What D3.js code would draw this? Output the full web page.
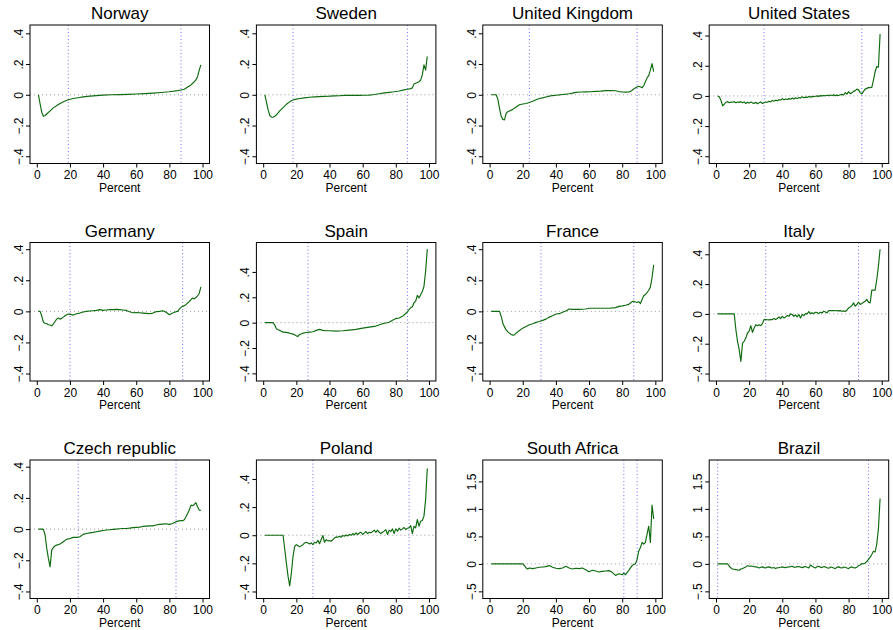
<!DOCTYPE html>
<html><head><meta charset="utf-8">
<script src="https://cdn.jsdelivr.net/npm/d3@7"></script>
<style>body{margin:0;background:#fff}svg{display:block}</style>
</head><body><svg id="c" width="893" height="630"></svg>
<script>
const countries = ["Norway","Sweden","United Kingdom","United States","Germany","Spain","France","Italy","Czech republic","Poland","South Africa","Brazil"];

const norway = [[1,0],[2,-0.06],[3,-0.115],[4,-0.14],[5,-0.135],[6,-0.125],[8,-0.105],[10,-0.085],[13,-0.063],[16,-0.045],[19,-0.032],[22,-0.024],[25,-0.019],[28,-0.014],[32,-0.009],[36,-0.005],[40,-0.002],[45,0],[50,0.001],[55,0.003],[60,0.005],[65,0.008],[70,0.011],[75,0.015],[80,0.02],[85,0.027],[87,0.031],[89,0.036],[91,0.05],[93,0.064],[95,0.085],[96,0.097],[97,0.118],[98,0.16],[99,0.195]];
const sweden = [[1,0],[2,-0.05],[3,-0.1],[4,-0.135],[5,-0.145],[6,-0.146],[7,-0.14],[8,-0.13],[9,-0.118],[10,-0.105],[12,-0.083],[14,-0.062],[16,-0.046],[18,-0.034],[20,-0.028],[22,-0.024],[25,-0.02],[28,-0.016],[31,-0.014],[34,-0.012],[37,-0.01],[40,-0.009],[43,-0.007],[46,-0.006],[49,-0.004],[52,-0.003],[55,-0.004],[58,-0.004],[61,-0.003],[64,-0.002],[67,0.002],[70,0.007],[73,0.012],[76,0.016],[79,0.02],[82,0.025],[85,0.032],[87,0.036],[89,0.04],[90,0.045],[91,0.07],[92,0.075],[93,0.08],[94,0.085],[95,0.095],[96,0.13],[97,0.195],[98,0.16],[99,0.25]];
const unitedKingdom = [[1,0],[2,0],[3,0],[4,0],[5,-0.03],[6,-0.09],[7,-0.14],[8,-0.16],[9,-0.163],[10,-0.12],[11,-0.11],[12,-0.105],[14,-0.095],[16,-0.08],[18,-0.065],[20,-0.06],[22,-0.057],[24,-0.05],[26,-0.042],[28,-0.032],[30,-0.024],[32,-0.02],[34,-0.014],[36,-0.009],[38,-0.005],[40,-0.003],[42,-0.001],[44,0.002],[46,0.004],[48,0.007],[50,0.011],[52,0.016],[55,0.018],[58,0.019],[61,0.02],[64,0.022],[67,0.024],[70,0.027],[73,0.028],[76,0.026],[78,0.021],[80,0.018],[82,0.017],[84,0.018],[85,0.022],[86,0.03],[87,0.038],[88,0.045],[89,0.05],[90,0.055],[91,0.052],[92,0.045],[93,0.06],[94,0.085],[95,0.11],[96,0.125],[97,0.16],[98,0.203],[99,0.15]];
const unitedStates = [[1,0],[2,-0.005],[3,-0.03],[4,-0.065],[5,-0.055],[6,-0.042],[7,-0.038],[8,-0.045],[9,-0.04],[10,-0.042],[11,-0.038],[12,-0.045],[13,-0.04],[14,-0.043],[15,-0.038],[16,-0.046],[17,-0.04],[18,-0.05],[19,-0.042],[20,-0.048],[21,-0.04],[22,-0.046],[23,-0.05],[24,-0.042],[25,-0.052],[26,-0.045],[27,-0.04],[28,-0.05],[29,-0.045],[30,-0.04],[31,-0.042],[32,-0.035],[33,-0.04],[34,-0.03],[35,-0.035],[36,-0.028],[37,-0.032],[38,-0.025],[39,-0.028],[40,-0.018],[41,-0.025],[42,-0.02],[43,-0.024],[44,-0.018],[45,-0.022],[46,-0.014],[47,-0.02],[48,-0.012],[49,-0.018],[50,-0.01],[51,-0.015],[52,-0.006],[53,-0.012],[54,-0.008],[55,-0.01],[56,-0.004],[57,-0.008],[58,-0.003],[59,-0.006],[60,-0.002],[61,0],[62,-0.003],[63,0.002],[64,0],[65,0.003],[66,0.001],[67,0.004],[68,0.002],[69,0.006],[70,0.003],[71,0.007],[72,0.002],[73,0.005],[74,0.003],[75,0.008],[76,0.01],[77,0.006],[78,0.022],[79,0.012],[80,0.028],[81,0.015],[82,0.02],[83,0.03],[84,0.035],[85,0.045],[86,0.04],[87,0.022],[88,0.013],[89,0.03],[90,0.045],[91,0.05],[92,0.055],[93,0.055],[94,0.056],[95,0.105],[96,0.16],[97,0.195],[98,0.19],[99,0.41]];
const germany = [[1,0],[2,0],[3,-0.03],[4,-0.07],[5,-0.076],[6,-0.08],[7,-0.086],[8,-0.088],[9,-0.093],[10,-0.08],[11,-0.065],[12,-0.05],[13,-0.043],[14,-0.05],[15,-0.045],[16,-0.037],[17,-0.028],[18,-0.022],[19,-0.017],[20,-0.019],[22,-0.024],[24,-0.015],[26,-0.011],[28,-0.004],[30,0],[32,0.002],[34,0.004],[36,0.006],[38,0.011],[40,0.006],[42,0.009],[44,0.011],[46,0.011],[48,0.013],[50,0.011],[52,0.009],[54,0.006],[56,-0.002],[58,-0.009],[60,-0.007],[62,-0.009],[64,-0.011],[66,-0.013],[68,-0.015],[70,-0.011],[72,-0.002],[74,0],[76,0.004],[78,-0.006],[80,-0.022],[81,-0.015],[82,-0.011],[84,-0.002],[85,0],[86,0.015],[87,0.026],[88,0.032],[89,0.037],[90,0.043],[91,0.054],[92,0.063],[93,0.076],[94,0.086],[95,0.08],[96,0.089],[97,0.1],[98,0.115],[99,0.158]];
const spain = [[1,0],[6,0],[7,-0.021],[8,-0.048],[9,-0.056],[10,-0.061],[12,-0.075],[14,-0.077],[16,-0.083],[18,-0.09],[20,-0.104],[21,-0.109],[22,-0.093],[24,-0.083],[26,-0.078],[28,-0.075],[30,-0.072],[32,-0.061],[34,-0.053],[36,-0.061],[38,-0.064],[40,-0.064],[44,-0.067],[48,-0.064],[52,-0.059],[56,-0.053],[60,-0.043],[64,-0.035],[68,-0.027],[72,-0.008],[74,-0.003],[76,0.003],[78,0.019],[80,0.032],[82,0.037],[84,0.05],[86,0.072],[87,0.085],[88,0.104],[89,0.117],[90,0.125],[91,0.157],[92,0.17],[93,0.215],[94,0.195],[95,0.22],[96,0.245],[97,0.285],[98,0.405],[99,0.58]];
const france = [[1,0],[6,0],[7,-0.032],[8,-0.076],[9,-0.1],[10,-0.119],[11,-0.132],[12,-0.14],[13,-0.149],[14,-0.153],[15,-0.151],[16,-0.14],[18,-0.123],[20,-0.108],[22,-0.097],[24,-0.086],[26,-0.08],[28,-0.071],[30,-0.065],[32,-0.058],[34,-0.05],[36,-0.037],[38,-0.028],[40,-0.017],[42,-0.015],[44,-0.006],[46,0.002],[48,0.015],[50,0.013],[54,0.013],[58,0.015],[60,0.02],[64,0.02],[68,0.02],[72,0.02],[76,0.024],[78,0.032],[80,0.035],[82,0.039],[84,0.045],[85,0.054],[86,0.063],[87,0.065],[88,0.06],[89,0.058],[90,0.062],[91,0.05],[92,0.076],[93,0.1],[94,0.108],[95,0.12],[96,0.136],[97,0.156],[98,0.216],[99,0.3]];
const italy = [[1,0],[11,0],[12,-0.106],[13,-0.184],[14,-0.24],[15,-0.319],[16,-0.196],[17,-0.184],[18,-0.162],[19,-0.128],[20,-0.117],[21,-0.079],[22,-0.124],[23,-0.094],[24,-0.072],[25,-0.079],[26,-0.072],[27,-0.079],[28,-0.065],[29,-0.038],[30,-0.038],[31,-0.039],[32,-0.04],[33,-0.038],[34,-0.038],[35,-0.031],[36,-0.038],[37,-0.031],[38,-0.02],[39,-0.031],[40,-0.016],[41,-0.027],[42,-0.02],[43,-0.011],[44,-0.016],[45,0],[46,-0.004],[47,-0.016],[48,-0.007],[49,-0.02],[50,-0.004],[51,-0.027],[52,-0.004],[53,-0.011],[54,0.002],[55,0],[56,0.016],[57,0.002],[58,0.007],[59,0.002],[60,0.011],[61,0.009],[62,0.002],[63,0.011],[64,0.007],[65,0.018],[66,0.013],[67,0.007],[68,0.022],[69,0.022],[70,0.022],[71,0.022],[72,0.021],[73,0.022],[74,0.02],[75,0.022],[76,0.018],[77,0.02],[78,0.016],[79,0.025],[80,0.04],[81,0.047],[82,0.056],[83,0.074],[84,0.052],[85,0.063],[86,0.079],[87,0.063],[88,0.07],[89,0.079],[90,0.085],[91,0.097],[92,0.079],[93,0.074],[94,0.16],[95,0.16],[96,0.16],[97,0.23],[98,0.32],[99,0.434]];
const czechRepublic = [[1,0],[3,0],[4,-0.002],[5,-0.038],[6,-0.124],[7,-0.188],[8,-0.242],[9,-0.135],[10,-0.118],[11,-0.107],[12,-0.103],[14,-0.096],[16,-0.081],[18,-0.066],[20,-0.06],[22,-0.053],[24,-0.053],[26,-0.049],[28,-0.034],[30,-0.028],[32,-0.024],[34,-0.021],[36,-0.017],[38,-0.013],[40,-0.009],[42,-0.006],[44,-0.004],[46,-0.002],[48,0],[50,0.002],[52,0.004],[54,0.004],[56,0.006],[58,0.009],[60,0.011],[62,0.013],[64,0.017],[66,0.019],[68,0.021],[70,0.021],[72,0.026],[74,0.03],[76,0.032],[78,0.034],[80,0.03],[82,0.036],[84,0.047],[85,0.051],[86,0.053],[87,0.055],[88,0.053],[89,0.06],[90,0.079],[91,0.1],[92,0.122],[93,0.154],[94,0.15],[95,0.158],[96,0.169],[97,0.143],[98,0.122],[99,0.12]];
const poland = [[1,0],[12,0],[13,-0.1],[14,-0.198],[15,-0.293],[16,-0.36],[17,-0.269],[18,-0.15],[19,-0.079],[20,-0.067],[21,-0.074],[22,-0.083],[23,-0.074],[24,-0.067],[25,-0.055],[26,-0.05],[27,-0.055],[28,-0.062],[29,-0.055],[30,-0.067],[31,-0.05],[32,-0.055],[33,-0.036],[34,-0.06],[35,-0.031],[36,-0.002],[37,-0.05],[38,-0.031],[39,-0.04],[40,-0.038],[41,-0.043],[42,-0.031],[43,-0.019],[44,-0.012],[45,-0.014],[46,-0.007],[47,-0.014],[48,-0.002],[49,-0.007],[50,0.002],[51,-0.005],[52,0.005],[53,0],[54,0.012],[55,0.002],[56,0.017],[57,0.005],[58,0.017],[59,0.021],[60,0.005],[61,0.017],[62,0.026],[63,0.012],[64,0.021],[65,0.017],[66,0.026],[67,0.036],[68,0.021],[69,0.036],[70,0.021],[71,0.012],[72,0.021],[73,0.029],[74,0.04],[75,0.005],[76,0.036],[77,0.026],[78,0.045],[79,0.012],[80,0.045],[81,0.029],[82,0.05],[83,0.036],[84,0.045],[85,0.055],[86,0.04],[87,0.05],[88,0.052],[89,0.069],[90,0.012],[91,0.064],[92,0.052],[93,0.112],[94,0.064],[95,0.1],[96,0.105],[97,0.136],[98,0.255],[99,0.474]];
const southAfrica = [[1,0],[20,0],[21,-0.03],[22,-0.074],[23,-0.093],[24,-0.074],[26,-0.086],[28,-0.074],[30,-0.062],[32,-0.056],[34,-0.05],[36,-0.031],[38,-0.062],[40,-0.08],[42,-0.086],[44,-0.074],[46,-0.043],[48,-0.074],[50,-0.093],[52,-0.08],[54,-0.086],[56,-0.074],[58,-0.105],[60,-0.142],[62,-0.117],[64,-0.13],[66,-0.148],[68,-0.136],[70,-0.13],[72,-0.123],[74,-0.154],[76,-0.21],[78,-0.179],[80,-0.198],[81,-0.167],[82,-0.198],[83,-0.154],[84,-0.117],[85,-0.074],[86,-0.031],[87,-0.006],[88,0],[89,0.08],[90,0.235],[91,0.296],[92,0.39],[93,0.358],[94,0.39],[95,0.54],[96,0.685],[97,0.39],[98,1.07],[99,0.82]];
const brazil = [[1,0],[7,0],[8,-0.043],[9,-0.074],[10,-0.093],[12,-0.105],[14,-0.117],[15,-0.093],[16,-0.086],[18,-0.055],[19,-0.031],[20,-0.043],[21,-0.04],[22,-0.043],[23,-0.05],[24,-0.055],[25,-0.06],[26,-0.074],[27,-0.062],[28,-0.055],[29,-0.068],[30,-0.074],[31,-0.058],[32,-0.055],[33,-0.068],[34,-0.074],[35,-0.065],[36,-0.086],[37,-0.07],[38,-0.068],[39,-0.062],[40,-0.055],[41,-0.065],[42,-0.068],[43,-0.058],[44,-0.055],[45,-0.05],[46,-0.043],[47,-0.06],[48,-0.062],[49,-0.05],[50,-0.049],[51,-0.06],[52,-0.068],[53,-0.055],[54,-0.049],[55,-0.062],[56,-0.074],[57,-0.019],[58,-0.043],[59,-0.06],[60,-0.074],[61,-0.05],[62,-0.043],[63,-0.06],[64,-0.068],[65,-0.05],[66,-0.055],[67,-0.07],[68,-0.08],[69,-0.06],[70,-0.062],[71,-0.075],[72,-0.086],[73,-0.06],[74,-0.055],[75,-0.068],[76,-0.074],[77,-0.06],[78,-0.062],[79,-0.075],[80,-0.086],[81,-0.062],[82,-0.055],[83,-0.07],[84,-0.074],[85,-0.06],[86,-0.031],[87,-0.02],[88,0.006],[89,0],[90,0.018],[91,0.043],[92,0.08],[93,0.123],[94,0.17],[95,0.23],[96,0.216],[97,0.36],[98,0.64],[99,1.19]];

const seriesList = [norway, sweden, unitedKingdom, unitedStates, germany, spain, france, italy, czechRepublic, poland, southAfrica, brazil];
const cutLow  = [19, 18, 24, 29, 20, 27, 31, 30, 25, 30, 81, 1];
const cutHigh = [87, 87, 89, 88, 88, 87, 87, 86, 84, 88, 89, 92];
const yTicksSmall = [-0.4, -0.2, 0, 0.2, 0.4];
const yTicksLarge = [-0.5, 0, 0.5, 1, 1.5];
const xTicks = [0, 20, 40, 60, 80, 100];
const yRanges = [[-0.447,0.454],[-0.447,0.454],[-0.447,0.454],[-0.448,0.47],[-0.448,0.443],[-0.46,0.632],[-0.448,0.443],[-0.45,0.479],[-0.445,0.443],[-0.45,0.535],[-0.63,1.89],[-0.63,1.89]];

const FONT = "'Liberation Sans', Arial, Helvetica, sans-serif";
const svg = d3.select("#c");
const W = 179.5, H = 138.5;
const fmt = d => d === 0 ? "0" : (d < 0 ? "\u2212" : "") + String(Math.abs(d)).replace(/^0\./, ".");

countries.forEach((name, i) => {
  const col = i % 4, row = Math.floor(i / 4);
  const left = 30 + col * 226.4, top = 25 + row * 217.5;
  const g = svg.append("g").attr("transform", `translate(${left},${top})`);
  const x = d3.scaleLinear().domain([-4.1, 104.2]).range([0, W]);
  const y = d3.scaleLinear().domain(yRanges[i]).range([H, 0]);
  const yt = i >= 10 ? yTicksLarge : yTicksSmall;

  // zero reference
  g.append("line").attr("x1", 0).attr("x2", W).attr("y1", y(0)).attr("y2", y(0))
    .attr("stroke", "#9a9a9a").attr("stroke-width", 1).attr("stroke-dasharray", "1,3");
  // cutoff lines
  [cutLow[i], cutHigh[i]].forEach(c => {
    g.append("line").attr("x1", x(c)).attr("x2", x(c)).attr("y1", 0).attr("y2", H)
      .attr("stroke", "#6f6fff").attr("stroke-width", 1).attr("stroke-dasharray", "1,2.5");
  });
  // series
  g.append("path").datum(seriesList[i])
    .attr("d", d3.line().x(d => x(d[0])).y(d => y(d[1])))
    .attr("fill", "none").attr("stroke", "#0d6b0d").attr("stroke-width", 1.15).attr("stroke-linejoin", "round");
  // box
  g.append("rect").attr("x", 0).attr("y", 0).attr("width", W).attr("height", H)
    .attr("fill", "none").attr("stroke", "#000").attr("stroke-width", 1);

  // y axis
  const ya = g.append("g").call(d3.axisLeft(y).tickValues(yt).tickSize(4).tickFormat(fmt));
  ya.select(".domain").remove();
  ya.selectAll("line").attr("stroke", "#000");
  ya.selectAll("text").attr("transform", "rotate(-90)").attr("x", 0).attr("y", -7).attr("dy", 0)
    .attr("text-anchor", "middle").attr("fill", "#000").style("font-family", FONT).style("font-size", "12px");

  // x axis
  const xa = g.append("g").attr("transform", `translate(0,${H})`)
    .call(d3.axisBottom(x).tickValues(xTicks).tickSize(4).tickPadding(3));
  xa.select(".domain").remove();
  xa.selectAll("line").attr("stroke", "#000");
  xa.selectAll("text").attr("fill", "#000").style("font-family", FONT).style("font-size", "12px");

  g.append("text").attr("x", W / 2).attr("y", H + 28).attr("text-anchor", "middle")
    .style("font-family", FONT).style("font-size", "12px").attr("fill", "#000").text("Percent");
  g.append("text").attr("x", W / 2).attr("y", -6).attr("text-anchor", "middle")
    .style("font-family", FONT).style("font-size", "17px").attr("fill", "#000").text(name);
});
</script>
</body></html>
